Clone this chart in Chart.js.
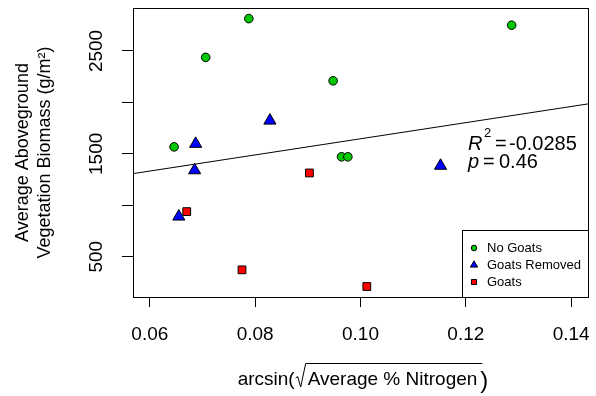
<!DOCTYPE html>
<html>
<head>
<meta charset="utf-8">
<script src="https://cdn.jsdelivr.net/npm/chart.js@4"></script>
<style>
  html, body { margin: 0; padding: 0; background: #fff; }
  #wrap { width: 596px; height: 396px; }
</style>
</head>
<body>
<div id="wrap"><canvas id="chart" width="596" height="396"></canvas></div>
<script>
// Veriler
const noGoatsX = [0.0788, 0.0706, 0.1287, 0.0948, 0.0646, 0.0964, 0.0976];
const noGoatsY = [2815, 2438, 2751, 2210, 1568, 1471, 1471];
const removedX = [0.0828, 0.0687, 0.0685, 0.0655, 0.1152];
const removedY = [1823, 1597, 1340, 890, 1384];
const goatsX = [0.0903, 0.0670, 0.0775, 0.1012];
const goatsY = [1314, 938, 372, 210];

// Regresyon doğrusu
const fitIntercept = 862;
const fitSlope = 7845;

// Eksen sınırları ve tick değerleri
const xMin = 0.0568, xMax = 0.1432;
const yMin = 108, yMax = 2918;
const xTicks = [0.06, 0.08, 0.10, 0.12, 0.14];
const yTicks = [500, 1000, 1500, 2000, 2500];
const yLabeled = [500, 1500, 2500];

const legendLabels = ['No Goats', 'Goats Removed', 'Goats'];
const statsText = ['-0.0285', '0.46'];

const FONT = '"Liberation Sans", Arial, sans-serif';

function toPoints(xs, ys) {
    return xs.map((x, i) => ({ x: x, y: ys[i] }));
}

const fitLine = [xMin, xMax].map(x => ({ x: x, y: fitIntercept + fitSlope * x }));

// Eksen kenar boşluklarını sıfırla
function noPadding(scale) {
    scale.paddingTop = 0;
    scale.paddingBottom = 0;
    scale.paddingLeft = 0;
    scale.paddingRight = 0;
}

// Çerçeve, lejant, istatistik ve x başlığı için eklenti
const extras = {
    id: 'extras',
    afterDraw(chart) {
        const ctx = chart.ctx;
        const a = chart.chartArea;
        ctx.save();
        ctx.strokeStyle = '#000';
        ctx.lineWidth = 1;
        ctx.strokeRect(a.left + 0.5, a.top + 0.5, a.right - a.left, a.bottom - a.top);

        // Lejant kutusu
        const lx = 462.5, ly = 230.5;
        ctx.fillStyle = '#fff';
        ctx.fillRect(lx, ly, a.right - lx, a.bottom - ly);
        ctx.strokeRect(lx, ly, a.right - lx + 0.5, a.bottom - ly + 0.5);
        const styles = [
            { pointStyle: 'circle', radius: 2.8, bg: '#00C800' },
            { pointStyle: 'triangle', radius: 4.2, bg: '#0000FF' },
            { pointStyle: 'rect', radius: 3.6, bg: '#FF0000' }
        ];
        const rows = [248, 265, 282];
        ctx.font = '13px ' + FONT;
        ctx.textBaseline = 'middle';
        ctx.textAlign = 'left';
        legendLabels.forEach((label, i) => {
            ctx.fillStyle = styles[i].bg;
            ctx.strokeStyle = '#000';
            ctx.lineWidth = 1;
            Chart.helpers.drawPoint(ctx, { pointStyle: styles[i].pointStyle, radius: styles[i].radius, borderWidth: 1 }, 474, rows[i]);
            ctx.fillStyle = '#000';
            ctx.fillText(label, 487, rows[i] + 0.5);
        });

        // R^2 ve p değerleri
        ctx.fillStyle = '#000';
        ctx.textBaseline = 'alphabetic';
        ctx.font = 'italic 20px ' + FONT;
        ctx.fillText('R', 468, 150);
        ctx.fillText('p', 468, 168);
        ctx.font = '13px ' + FONT;
        ctx.fillText('2', 484, 137);
        ctx.font = '20px ' + FONT;
        ctx.fillText('=', 495, 150);
        ctx.fillText(statsText[0], 509, 150);
        ctx.fillText('=', 483, 168);
        ctx.fillText(statsText[1], 499, 168);

        // x ekseni başlığı (karekök işareti ile)
        ctx.font = '19px ' + FONT;
        const pre = 'arcsin(';
        const inner = 'Average % Nitrogen';
        const wPre = ctx.measureText(pre).width;
        const wIn = ctx.measureText(inner).width;
        const total = wPre + 13 + wIn + 10;
        let tx = (a.left + a.right) / 2 - total / 2 + 2;
        const ty = 385;
        ctx.fillText(pre, tx, ty);
        tx += wPre;
        // kök işareti
        ctx.lineWidth = 1;
        ctx.beginPath();
        ctx.moveTo(tx + 1, 378);
        ctx.lineTo(tx + 3, 376.5);
        ctx.lineTo(tx + 6, 387);
        ctx.lineTo(tx + 11, 363.5);
        ctx.lineTo(tx + 13 + wIn + 5, 363.5);
        ctx.stroke();
        tx += 13;
        ctx.fillText(inner, tx, ty);
        tx += wIn + 3;
        ctx.font = '24px ' + FONT;
        ctx.fillText(')', tx, ty + 3);
        ctx.restore();
    }
};

const ctx = document.getElementById('chart').getContext('2d');
new Chart(ctx, {
    type: 'scatter',
    data: {
        datasets: [
            {
                label: 'fit',
                data: fitLine,
                showLine: true,
                borderColor: '#000',
                borderWidth: 1,
                pointRadius: 0,
                order: 4
            },
            {
                label: legendLabels[0],
                data: toPoints(noGoatsX, noGoatsY),
                pointStyle: 'circle',
                pointRadius: 4.3,
                backgroundColor: '#00C800',
                borderColor: '#000',
                borderWidth: 1,
                order: 1
            },
            {
                label: legendLabels[1],
                data: toPoints(removedX, removedY),
                pointStyle: 'triangle',
                pointRadius: 7,
                backgroundColor: '#0000FF',
                borderColor: '#000',
                borderWidth: 1,
                order: 2
            },
            {
                label: legendLabels[2],
                data: toPoints(goatsX, goatsY),
                pointStyle: 'rect',
                pointRadius: 5.5,
                backgroundColor: '#FF0000',
                borderColor: '#000',
                borderWidth: 1,
                order: 3
            }
        ]
    },
    options: {
        responsive: false,
        animation: false,
        layout: { padding: { left: 0, right: 7, top: 6, bottom: 0 } },
        plugins: {
            legend: { display: false },
            tooltip: { enabled: false }
        },
        scales: {
            x: {
                type: 'linear',
                min: xMin,
                max: xMax,
                afterBuildTicks: scale => { scale.ticks = xTicks.map(v => ({ value: v })); },
                afterFit: scale => { scale.height = 99; noPadding(scale); },
                grid: { drawOnChartArea: false, tickLength: 10, color: '#000', tickColor: '#000' },
                border: { display: false },
                ticks: {
                    color: '#000',
                    font: { size: 19, family: FONT },
                    padding: 16,
                    maxRotation: 0,
                    callback: v => v.toFixed(2)
                }
            },
            y: {
                type: 'linear',
                min: yMin,
                max: yMax,
                afterBuildTicks: scale => { scale.ticks = yTicks.map(v => ({ value: v })); },
                afterFit: scale => { scale.width = 133; noPadding(scale); },
                grid: { drawOnChartArea: false, tickLength: 11, color: '#000', tickColor: '#000' },
                border: { display: false },
                ticks: {
                    color: '#000',
                    font: { size: 19, family: FONT },
                    padding: 4,
                    minRotation: 90,
                    maxRotation: 90,
                    crossAlign: 'center',
                    callback: v => yLabeled.includes(v) ? String(v) : ''
                },
                title: {
                    display: true,
                    text: ['Average Aboveground', 'Vegetation Biomass (g/m\u00B2)'],
                    color: '#000',
                    font: { size: 18, family: FONT, lineHeight: 1.17 },
                    padding: { top: 13, bottom: 0 }
                }
            }
        }
    },
    plugins: [extras]
});
</script>
</body>
</html>
